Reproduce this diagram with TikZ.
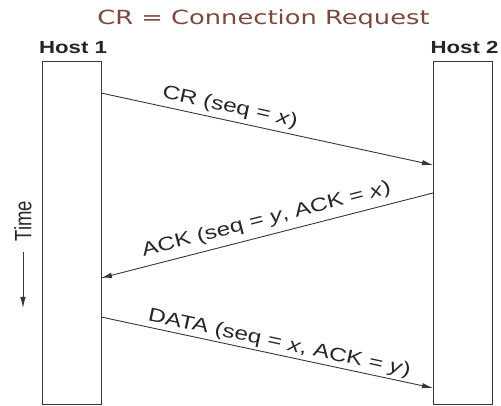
\documentclass[tikz,border=0pt]{standalone}
\usepackage{fontspec}
\usetikzlibrary{arrows.meta}
\newfontfamily\titlefont{DejaVu Sans}
\newfontfamily\lblfont{Liberation Sans}
\definecolor{titlebrown}{RGB}{122,72,60}
\definecolor{ink}{RGB}{55,55,55}
% wide lettering used throughout the figure
\newcommand{\widetext}[2]{\scalebox{#1}[1]{#2}}
\begin{document}
\begin{tikzpicture}[x=1pt,y=1pt,
  hostbox/.style={draw=ink, line width=1.3pt, minimum width=59pt, minimum height=343pt,
                  anchor=south west, inner sep=0pt},
  hostlbl/.style={font=\lblfont\bfseries\fontsize{17.5}{20}\selectfont, text=black!85, anchor=base, inner sep=0pt},
  msg/.style={draw=ink, line width=0.9pt, -{Latex[length=11pt,width=5.5pt]}},
  lbl/.style={font=\lblfont\fontsize{19}{22}\selectfont, text=black!85, inner sep=0pt, sloped}]
\useasboundingbox (0,0) rectangle (501,406);

% heading
\node[font=\titlefont\fontsize{19.5}{23}\selectfont, text=titlebrown, anchor=base, inner sep=0pt]
  (title) at (263.5,381.5) {\widetext{1.32}{CR = Connection Request}};

% the two hosts and their time lines
\node[hostbox] (h1) at (42,1) {};
\node[hostbox] (h2) at (433,1) {};
\node[hostlbl] (h1lbl) at (73,352.5) {\widetext{1.27}{Host 1}};
\node[hostlbl] (h2lbl) at (464.5,352.5) {\widetext{1.27}{Host 2}};

% message end points on the boxes
\coordinate (crA) at (101,313);
\coordinate (crB) at (433,241);
\coordinate (ackA) at (433,213);
\coordinate (ackB) at (101,128);
\coordinate (datA) at (101,89);
\coordinate (datB) at (433,18);

\draw[msg] (crA) -- node[lbl, pos=0.38, above=4pt] (crlbl)
  {\widetext{1.28}{CR (seq = \textit{x})}} (crB);
\draw[msg] (ackA) -- node[lbl, pos=0.49, above=6pt] (acklbl)
  {\widetext{1.28}{ACK (seq = \textit{y}, ACK = \textit{x})}} (ackB);
\draw[msg] (datA) -- node[lbl, pos=0.53, above=2pt] (datlbl)
  {\widetext{1.28}{DATA (seq = \textit{x}, ACK = \textit{y})}} (datB);

% time axis
\node[font=\lblfont\fontsize{18.5}{21}\selectfont, text=black!85, rotate=90, inner sep=0pt]
  (time) at (23,185) {\scalebox{1}[1.28]{Time}};
\coordinate (tA) at (23,154);
\coordinate (tB) at (23,98);
\draw[msg] (tA) -- (tB);
\end{tikzpicture}
\end{document}
